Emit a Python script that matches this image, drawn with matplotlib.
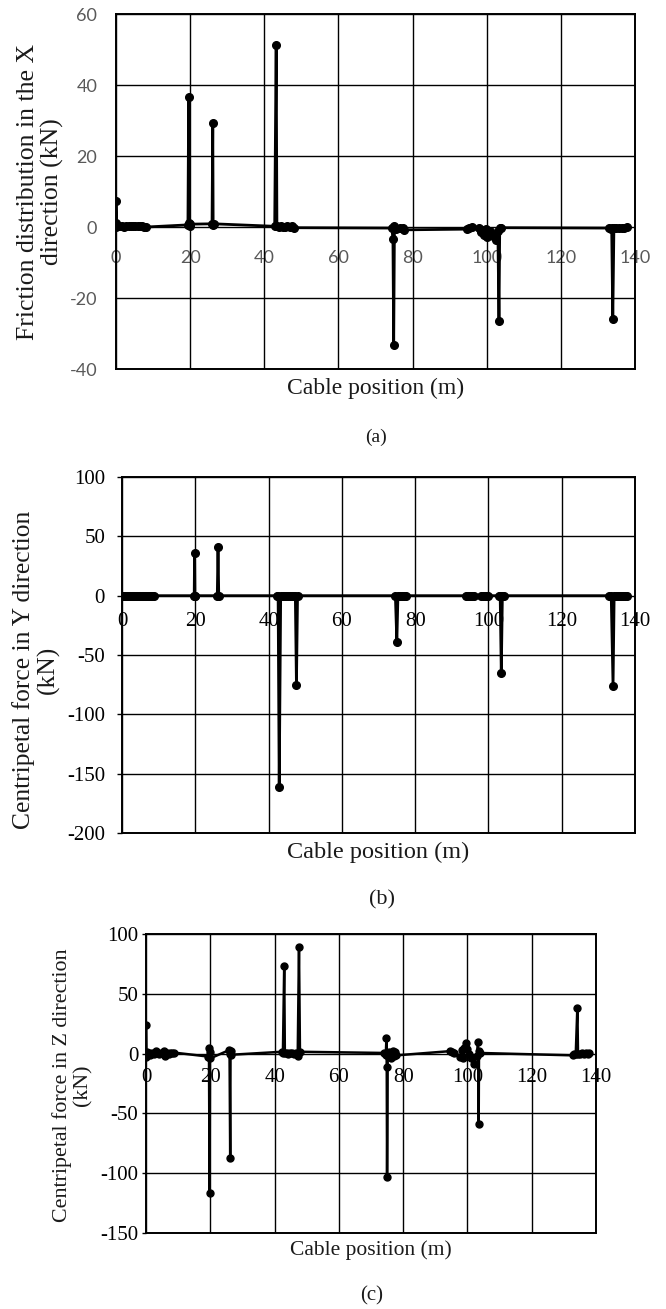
import matplotlib
matplotlib.use("Agg")
import matplotlib.pyplot as plt

plt.rcParams["axes.unicode_minus"] = False

# ---- (a) friction in X direction (kN) vs cable position (m)
xa = [0.0, 0.0, 0.1, 0.4, 0.9, 1.5, 2.2, 2.8, 3.4, 4.0, 4.6, 5.2, 5.8, 6.4, 7.0, 7.6, 8.2,
      19.4, 19.6, 19.7, 19.9, 20.0,
      25.9, 26.1, 26.2, 26.4,
      42.8, 43.2, 43.4, 43.9, 44.4, 45.0, 45.6, 46.2, 46.9, 47.5, 47.9,
      74.4, 74.7, 74.9, 75.1, 75.4, 76.6, 77.4, 77.8,
      94.6, 95.2, 95.9, 98.0, 98.4, 98.8, 99.3, 99.7, 100.2, 100.8, 101.6, 102.4, 103.0,
      103.3, 103.5, 103.9,
      133.0, 133.4, 133.7, 134.0, 134.3, 134.9, 135.6, 136.4, 137.1, 137.9]
ya = [0.0, 7.2, 1.0, 0.3, 0.2, 0.3, 0.0, 0.2, 0.4, 0.3, 0.3, 0.4, 0.3, 0.4, 0.2, 0.1, 0.0,
      0.6, 36.5, 1.2, 0.4, 0.8,
      0.9, 29.2, 0.5, 0.9,
      0.2, 51.2, 0.3, 0.1, 0.2, 0.0, 0.1, 0.2, 0.0, 0.3, -0.2,
      -0.3, -3.4, -33.2, 0.2, -0.5, -0.3, -0.2, -0.8,
      -0.6, -0.2, 0.1, -0.4, -1.5, -0.8, -2.2, -0.6, -2.8, -1.2, -2.4, -3.6, -1.0,
      -26.4, -0.4, -0.2,
      -0.3, -0.5, -0.2, -25.9, -0.3, -0.2, -0.4, -0.2, -0.3, -0.1]

# ---- (b) centripetal force in Y direction (kN)
xb = [0.0, 0.3, 0.7, 1.0, 1.4, 1.8, 2.2, 2.6, 3.0, 3.4, 3.8, 4.2, 4.6, 5.0, 5.4, 5.8,
      6.2, 6.6, 7.0, 7.4, 7.8, 8.2, 8.6,
      19.7, 19.8, 19.9, 20.0,
      26.0, 26.2, 26.4,
      42.4, 42.6, 42.9, 43.3, 43.8, 44.3, 44.8, 45.3, 45.8, 46.3, 46.8, 47.3, 47.6, 47.9,
      74.6, 75.0, 75.3, 75.8, 76.4, 77.0, 77.5,
      94.0, 94.5, 95.0, 95.5, 96.0, 98.0, 98.5, 99.0, 99.5, 100.0,
      102.8, 103.2, 103.5, 103.8, 104.2,
      133.0, 133.5, 134.0, 134.3, 134.8, 135.3, 135.8, 136.3, 136.8, 137.3, 137.8]
yb = [0.0] * 23 + \
     [0.0, 36.0, 0.0, 0.0,
      0.0, 41.0, 0.0,
      0.0, 0.0, -161.0, 0.0, 0.0, 0.0, 0.0, 0.0, 0.0, 0.0, 0.0, 0.0, -75.0, 0.0,
      0.0, -39.0, 0.0, 0.0, 0.0, 0.0, 0.0,
      0.0, 0.0, 0.0, 0.0, 0.0, 0.0, 0.0, 0.0, 0.0, 0.0,
      0.0, 0.0, -65.0, 0.0, 0.0,
      0.0, 0.0, -76.0, 0.0, 0.0, 0.0, 0.0, 0.0, 0.0, 0.0, 0.0]

# ---- (c) centripetal force in Z direction (kN)
xc = [0.0, 0.0, 0.1, 0.3, 0.8, 1.3, 1.9, 2.4, 3.0, 3.5, 4.1, 4.6, 5.2, 5.7, 6.0, 6.5,
      7.1, 7.6, 8.2, 8.8,
      19.3, 19.5, 19.6, 19.8, 19.9, 20.0,
      25.8, 26.0, 26.2, 26.3, 26.5,
      42.3, 42.6, 43.0, 43.2, 43.8, 44.3, 44.9, 45.4, 46.0, 46.6, 47.2, 47.6, 47.9,
      74.2, 74.6, 74.8, 74.9, 75.0, 75.2, 75.5, 76.3, 76.8, 77.2, 77.6, 77.9,
      94.5, 95.2, 95.8,
      97.8, 98.2, 98.6, 99.0, 99.6, 100.0, 100.5, 101.2, 102.0, 103.0, 103.3, 103.5,
      103.6, 103.9,
      132.8, 133.3, 133.7, 134.2, 134.4, 135.0, 135.6, 136.2, 136.8, 137.4, 137.8]
yc = [0.0, 23.5, -2.5, 1.5, 0.5, -0.8, 0.6, -0.5, 1.8, 0.3, -0.6, 0.8, 0.5, 2.0, -2.3, 0.5,
      -0.4, 0.6, 0.3, 0.8,
      -2.5, 4.5, -3.0, -117.0, 1.5, -4.0,
      2.8, -0.5, -87.0, 2.0, -1.0,
      1.5, 0.5, 73.5, 0.3, 0.8, -0.3, 0.5, 0.2, -0.2, 0.8, -2.0, 89.0, 1.5,
      0.5, -1.2, 12.8, -11.0, -103.0, -2.0, 1.0, -3.5, 2.5, -2.0, 1.0, -1.5,
      2.0, 1.0, 0.5,
      -2.5, 3.0, -4.0, 5.0, 8.5, 3.5, -0.5, -3.5, -9.0, -2.0, 10.0, -58.5,
      2.0, 0.5,
      -1.5, 0.0, -0.5, 38.5, 0.0, -0.3, 0.2, -0.4, 0.3, -0.2, 0.3]

xticks = [0, 20, 40, 60, 80, 100, 120, 140]

SERIF = "Liberation Serif"

panels = [
    dict(x=xa, y=ya, rect=[0.1742, 0.7181, 0.7793, 0.2712], ylim=(-40, 60), ystep=20,
         ylabel="Friction distribution in the X\ndirection (kN)", ylab_xy=(-0.146, 0.5),
         ylab_fs=18.5, xlab_fs=17, tick_font="Lato", tick_fs=13, tick_col="#595959",
         ytick_len=0, ytick_pad=13.5, xtick_pad=16.5, xlab_y=-0.056,
         tag="(a)", tag_xy=(0.5646, 0.6662), tag_fs=14, lw=2.0, ms=5.5),
    dict(x=xb, y=yb, rect=[0.1832, 0.3636, 0.7703, 0.2720], ylim=(-200, 100), ystep=50,
         ylabel="Centripetal force in Y direction\n(kN)", ylab_xy=(-0.168, 0.458),
         ylab_fs=18.4, xlab_fs=17.5, tick_font=SERIF, tick_fs=15, tick_col="black",
         ytick_len=3.6, ytick_pad=8.6, xtick_pad=12, xlab_y=-0.053,
         tag="(b)", tag_xy=(0.5736, 0.3125), tag_fs=16, lw=2.0, ms=5.5),
    dict(x=xc, y=yc, rect=[0.2192, 0.0581, 0.6757, 0.2284], ylim=(-150, 100), ystep=50,
         ylabel="Centripetal force in Z direction\n(kN)", ylab_xy=(-0.163, 0.493),
         ylab_fs=15.8, xlab_fs=15.5, tick_font=SERIF, tick_fs=15, tick_col="black",
         ytick_len=3.0, ytick_pad=2.5, xtick_pad=10.5, xlab_y=-0.057,
         tag="(c)", tag_xy=(0.5586, 0.0099), tag_fs=15, lw=1.8, ms=5.0),
]

fig = plt.figure(figsize=(6.66, 13.09), dpi=100)

for p in panels:
    ax = fig.add_axes(p["rect"])
    ax.plot(p["x"], p["y"], color="black", lw=p["lw"], marker="o", ms=p["ms"],
            solid_joinstyle="round", zorder=3)
    lo, hi = p["ylim"]
    ax.set_xlim(0, 140)
    ax.set_ylim(lo, hi)
    ax.set_yticks(list(range(lo, hi + 1, p["ystep"])))
    ax.set_xticks(xticks)
    ax.grid(True, color="black", lw=1.0)
    ax.set_axisbelow(True)
    for s in ax.spines.values():
        s.set_linewidth(1.4)
    ax.tick_params(axis="x", length=0, labelbottom=False)
    ax.tick_params(axis="y", length=p["ytick_len"], width=1.0, pad=p["ytick_pad"],
                   labelsize=p["tick_fs"], labelcolor=p["tick_col"])
    for lab in ax.get_yticklabels():
        lab.set_family(p["tick_font"])

    # x tick labels sit just below the zero line
    sec = ax.secondary_xaxis(-lo / (hi - lo))
    sec.set_alignment("bottom")
    sec.set_xticks(xticks)
    sec.spines["bottom"].set_visible(False)
    sec.spines["top"].set_visible(False)
    sec.tick_params(length=0, pad=p["xtick_pad"], labelsize=p["tick_fs"],
                    labelcolor=p["tick_col"])
    for lab in sec.get_xticklabels():
        lab.set_family(p["tick_font"])

    ax.text(p["ylab_xy"][0], p["ylab_xy"][1], p["ylabel"], transform=ax.transAxes,
            rotation=90, ha="center", va="center", ma="center", family=SERIF,
            fontsize=p["ylab_fs"], color="#1a1a1a", linespacing=1.1)
    ax.text(0.5, p["xlab_y"], "Cable position (m)", transform=ax.transAxes,
            ha="center", va="center", family=SERIF, fontsize=p["xlab_fs"], color="#1a1a1a")
    fig.text(p["tag_xy"][0], p["tag_xy"][1], p["tag"], ha="center", va="center",
             family=SERIF, fontsize=p["tag_fs"], color="#1a1a1a")

fig.savefig("out.png", dpi=100)
